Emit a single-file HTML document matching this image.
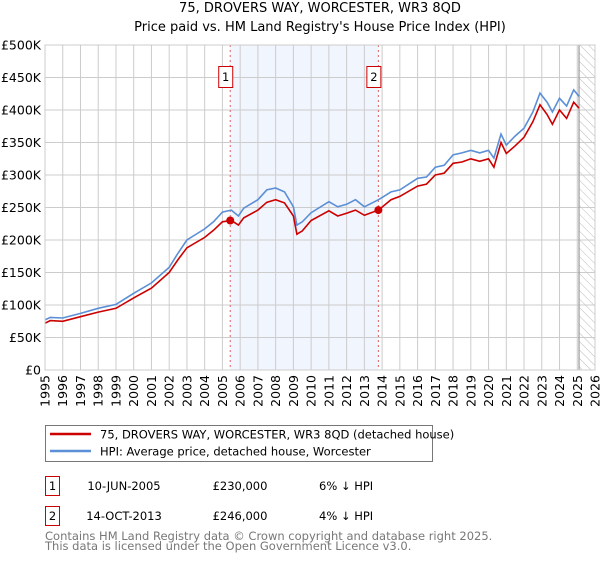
<!DOCTYPE html>
<html><head><meta charset="utf-8"><style>
body{margin:0;background:#fff;font-family:"Liberation Sans","DejaVu Sans",sans-serif;}
svg text{font-family:"DejaVu Sans","Liberation Sans",sans-serif;}
</style></head><body>
<svg id="c" width="600" height="560" xmlns="http://www.w3.org/2000/svg">
<defs><pattern id="hatch" width="6" height="6" patternUnits="userSpaceOnUse" patternTransform="rotate(-45)"><line x1="0" y1="0" x2="0" y2="6" stroke="#bbb" stroke-width="1"/></pattern></defs>
<text x="320" y="12" text-anchor="middle" font-size="13">75, DROVERS WAY, WORCESTER, WR3 8QD</text>
<text x="320" y="31" text-anchor="middle" font-size="13">Price paid vs. HM Land Registry's House Price Index (HPI)</text>
<g id="plot"></g>
<g>
<rect x="45.5" y="425.5" width="387" height="36" fill="#fff" stroke="#777"/>
<line x1="50" y1="434" x2="91" y2="434" stroke="#cc0000" stroke-width="2.5"/>
<text x="100" y="438.5" font-size="11.5">75, DROVERS WAY, WORCESTER, WR3 8QD (detached house)</text>
<line x1="50" y1="451" x2="91" y2="451" stroke="#5b8fd6" stroke-width="2.5"/>
<text x="100" y="455.5" font-size="11.5">HPI: Average price, detached house, Worcester</text>
</g>
<g font-size="11.5">
<rect x="45.5" y="476.5" width="14" height="19" fill="#fff" stroke="#c00"/>
<text x="52.5" y="490" text-anchor="middle">1</text>
<text x="124" y="490" text-anchor="middle">10-JUN-2005</text>
<text x="240" y="490" text-anchor="middle">£230,000</text>
<text x="319" y="490">6% ↓ HPI</text>
<rect x="45.5" y="506.5" width="14" height="19" fill="#fff" stroke="#c00"/>
<text x="52.5" y="520" text-anchor="middle">2</text>
<text x="124" y="520" text-anchor="middle">14-OCT-2013</text>
<text x="240" y="520" text-anchor="middle">£246,000</text>
<text x="319" y="520">4% ↓ HPI</text>
</g>
<text x="45" y="540" font-size="11.5" fill="#777">Contains HM Land Registry data © Crown copyright and database right 2025.</text>
<text x="45" y="550" font-size="11.5" fill="#777">This data is licensed under the Open Government Licence v3.0.</text>
</svg>
<script>
const hpiYears=[1995,1995.3,1996,1997,1998,1999,2000,2001,2002,2002.5,2003,2004,2004.5,2005,2005.5,2005.9,2006.2,2007,2007.5,2008,2008.5,2009,2009.2,2009.5,2010,2011,2011.5,2012,2012.5,2013,2013.8,2014.5,2015,2016,2016.5,2017,2017.5,2018,2018.5,2019,2019.5,2020,2020.3,2020.7,2021,2021.5,2022,2022.5,2022.9,2023.3,2023.6,2024,2024.4,2024.8,2025.1];
const hpiValues=[77,81,80,87,95,101,118,134,158,180,200,217,228,243,246,237,249,262,277,280,274,251,223,228,242,259,251,255,262,251,262,274,277,295,297,312,315,331,334,338,334,338,326,363,346,360,372,397,426,412,397,418,406,431,421];
const propValues=[72,76,75,82,89,95,111,126,150,170,188,204,215,228,230,223,234,246,258,262,257,237,209,214,230,245,237,241,246,238,246,262,267,283,286,300,303,318,320,325,321,325,312,350,333,345,358,382,408,393,378,400,387,412,403];
const saleYears=[2005.44,2013.79];
const saleValues=[230,246];
const saleLabels=["1","2"];
const yTicks=[0,50,100,150,200,250,300,350,400,450,500];
const yTickLabels=["£0","£50K","£100K","£150K","£200K","£250K","£300K","£350K","£400K","£450K","£500K"];
const xTicks=[];for(let y=1995;y<=2026;y++)xTicks.push(y);
const X0=45,X1=595,Y0=370,Y1=45;
const xs=v=>X0+(v-1995)/(2026-1995)*(X1-X0);
const ys=v=>Y0-v/500*(Y0-Y1);
const NS="http://www.w3.org/2000/svg";
const g=document.getElementById('plot');
function mk(t,a){const e=document.createElementNS(NS,t);for(const k in a)e.setAttribute(k,a[k]);g.appendChild(e);return e;}
let r=mk('rect',{x:xs(saleYears[0]),y:Y1,width:xs(saleYears[1])-xs(saleYears[0]),height:Y0-Y1,fill:'#eef3fc',opacity:0.8});


r=mk('rect',{x:xs(2025.1),y:Y1,width:X1-xs(2025.1),height:Y0-Y1,fill:'url(#hatch)'});


yTicks.forEach((v,i)=>{
 let l=mk('line',{x1:X0,x2:X1,y1:ys(v),y2:ys(v),stroke:'#ccc','stroke-width':1});
 
 
 let t=mk('text',{x:X0-4,y:ys(v)+4.5,'text-anchor':'end','font-size':12.5});
 t.textContent=yTickLabels[i];
 
 
});
xTicks.forEach(v=>{
 let l=mk('line',{x1:xs(v),x2:xs(v),y1:Y1,y2:Y0,stroke:'#ccc','stroke-width':1});
 
 
 let t=mk('text',{x:0,y:0,'text-anchor':'end','font-size':12.5,transform:`translate(${xs(v)+4.5},375) rotate(-90)`});
 t.textContent=v;
 
 
});
let ln=mk('line',{x1:xs(2025.1),x2:xs(2025.1),y1:Y1,y2:Y0,stroke:'#999','stroke-width':1.2});


saleYears.forEach((v,i)=>{
 let l=mk('line',{x1:xs(v),x2:xs(v),y1:Y1,y2:Y0,stroke:'#e06060','stroke-width':1,'stroke-dasharray':'2,3'});
 
 
});
const path=(vals)=>hpiYears.map((y,i)=>(i?'L':'M')+xs(y).toFixed(1)+','+ys(vals[i]).toFixed(1)).join('');
let p=mk('path',{d:path(hpiValues),fill:'none',stroke:'#5b8fd6','stroke-width':1.6});


p=mk('path',{d:path(propValues),fill:'none',stroke:'#cc0000','stroke-width':1.6});


saleYears.forEach((v,i)=>{
 let c=mk('circle',{cx:xs(v),cy:ys(saleValues[i]),r:4,fill:'#cc0000'});
 
 
 let b=mk('rect',{x:xs(v)-11.5,y:66.5,width:14,height:21,fill:'#fff',stroke:'#c00'});
 
 
 let t=mk('text',{x:xs(v)-4.5,y:81,'text-anchor':'middle','font-size':11.5});
 t.textContent=saleLabels[i];
 
 
});
let fr=mk('rect',{x:X0,y:Y1,width:X1-X0,height:Y0-Y1,fill:'none',stroke:'#ccc'});


</script>
</body></html>
